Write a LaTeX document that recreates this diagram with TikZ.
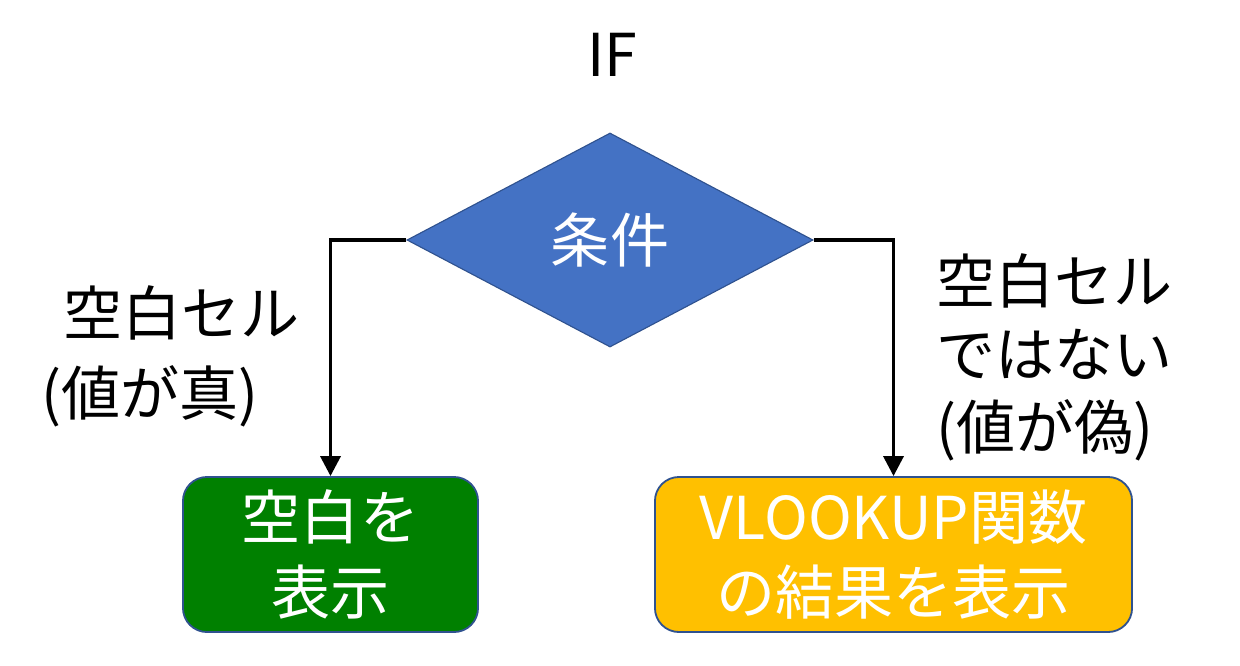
\documentclass[tikz,border=0pt]{standalone}
\usepackage{fontspec}
\setmainfont{Noto Sans CJK JP}
\usepackage{xcolor}
\usetikzlibrary{arrows.meta,shapes.geometric}
\definecolor{azul}{HTML}{4472C4}
\definecolor{borde}{HTML}{2F528F}
\definecolor{verde}{HTML}{008000}
\definecolor{amarillo}{HTML}{FFC000}

\begin{document}
\begin{tikzpicture}[x=0.025cm, y=-0.025cm,
  rombo/.style={diamond, draw=borde, line width=0.8pt, fill=azul, text=white, inner sep=0pt,
                aspect=1.9, minimum width=10.15cm, minimum height=5.35cm, font=\fontsize{42}{53}\selectfont},
  caja/.style={draw=borde, line width=1.3pt, rounded corners=0.6cm, text=white, align=center,
               minimum height=3.875cm, font=\fontsize{42}{53}\selectfont},
  etiqueta/.style={align=left, inner sep=0pt},
  flecha/.style={-{Triangle[width=0.5cm,length=0.5cm]}, line width=2.5pt, black}]
\useasboundingbox (0,0) rectangle (1240,665);
\node[font=\fontsize{42}{53}\selectfont] (iftxt) at (612,55) {IF};
\node[rombo] (cond) at (610,240) {条件};
\node[caja, fill=verde, minimum width=7.375cm] (blanco) at (330.5,554.5) {空白を\\表示};
\node[caja, fill=amarillo, minimum width=11.925cm] (vlook) at (893.5,554.5) {VLOOKUP関数\\の結果を表示};
\node[etiqueta, anchor=west, font=\fontsize{42}{57}\selectfont] (verdad) at (41,356) {\hspace{0.55cm}空白セル\\(値が真)};
\node[etiqueta, anchor=west, font=\fontsize{42}{52}\selectfont] (falso) at (936,357) {空白セル\\ではない\\(値が偽)};
\draw[flecha] (cond.west) -| (blanco.north);
\draw[flecha] (cond.east) -| (vlook.north);
\end{tikzpicture}
\end{document}
